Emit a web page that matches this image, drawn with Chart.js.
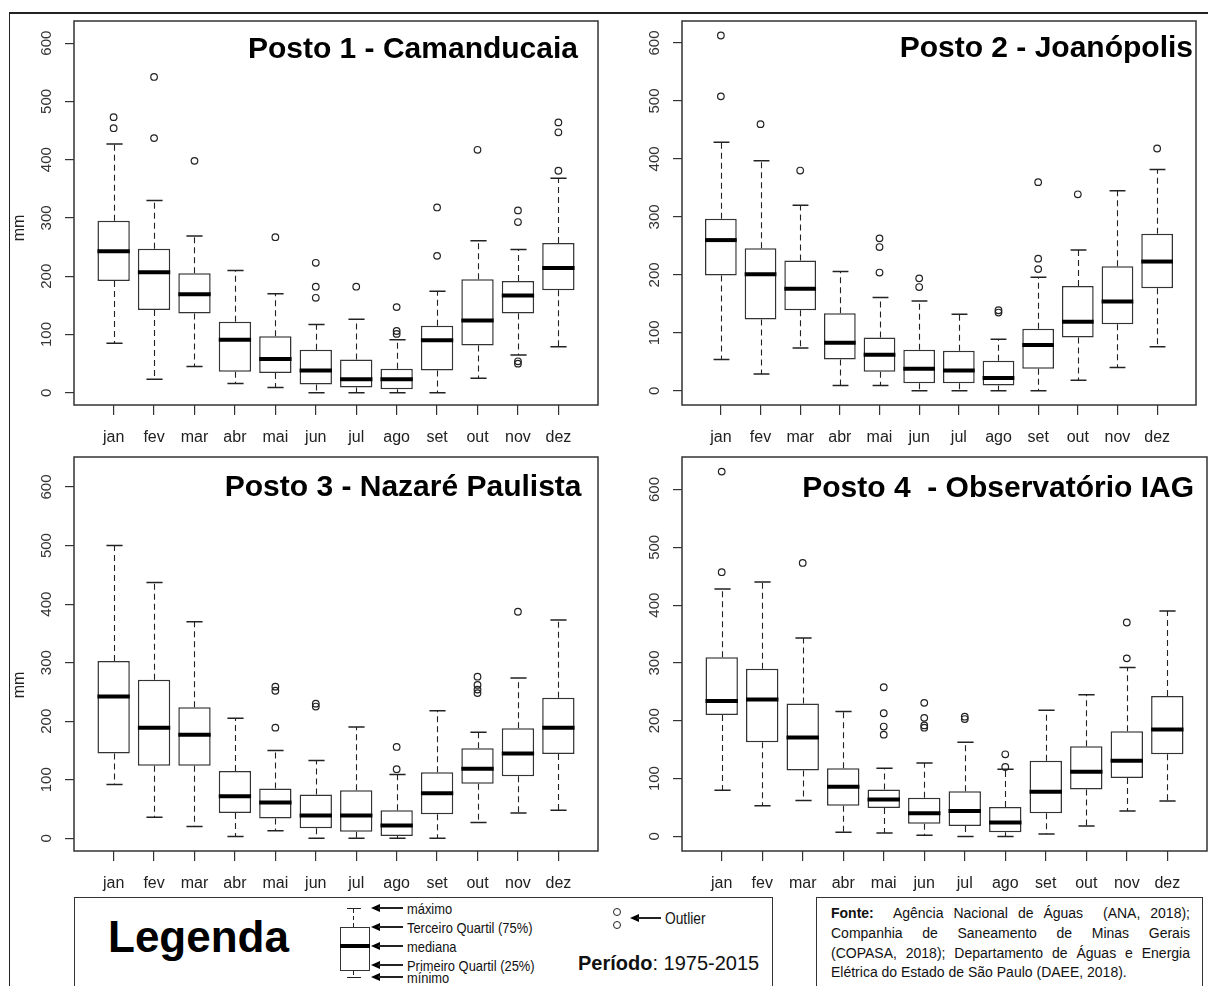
<!DOCTYPE html>
<html><head><meta charset="utf-8">
<script src="https://cdn.jsdelivr.net/npm/chart.js@4.4.1/dist/chart.umd.min.js"></script>
<style>
body{margin:0;background:#fff;}
#page{position:relative;width:1208px;height:986px;overflow:hidden;background:#fff;font-family:"Liberation Sans",Arial,sans-serif;color:#111;}
#page canvas{position:absolute;}
.a{position:absolute;white-space:nowrap;line-height:1;}
.n{transform:scaleX(0.86);transform-origin:0 50%;font-size:15px;}
.ln{position:absolute;background:#222;}
.box{position:absolute;box-sizing:border-box;border:1.5px solid #333;background:#fff;}
.ah{position:absolute;width:0;height:0;border-top:4px solid transparent;border-bottom:4px solid transparent;border-right:9px solid #000;}
.oc{position:absolute;width:6px;height:6px;border:1.2px solid #222;border-radius:50%;}
.src{position:absolute;left:831px;width:359px;font-size:14px;line-height:1;white-space:nowrap;text-align:justify;text-align-last:justify;}
</style></head><body>
<div id="page">
  <div class="ln" style="left:9px;top:12px;width:1199px;height:1.5px;"></div>
  <div class="ln" style="left:8.5px;top:12px;width:1.5px;height:980px;"></div>

  <div class="box" style="left:74px;top:897px;width:699px;height:110px;"></div>
  <div class="a" style="left:108px;top:914.8px;font-size:44px;font-weight:bold;color:#000;">Legenda</div>

  <div class="ln" style="left:347px;top:907.5px;width:14px;height:1.5px;"></div>
  <div class="ln" style="left:353px;top:909px;width:1.3px;height:18px;background:repeating-linear-gradient(to bottom,#222 0 4px,transparent 4px 7px);"></div>
  <div class="box" style="left:340px;top:927px;width:30px;height:44px;"></div>
  <div class="ln" style="left:340px;top:944px;width:30px;height:4px;background:#000;"></div>
  <div class="ln" style="left:353px;top:971px;width:1.3px;height:6px;background:repeating-linear-gradient(to bottom,#222 0 4px,transparent 4px 7px);"></div>
  <div class="ln" style="left:347px;top:976.5px;width:14px;height:1.5px;"></div>

  <div class="ah" style="left:371px;top:904px;"></div><div class="ln" style="left:378px;top:907.3px;width:25px;height:1.4px;"></div>
  <div class="ah" style="left:371px;top:923px;"></div><div class="ln" style="left:378px;top:926.3px;width:25px;height:1.4px;"></div>
  <div class="ah" style="left:371px;top:942px;"></div><div class="ln" style="left:378px;top:945.3px;width:25px;height:1.4px;"></div>
  <div class="ah" style="left:371px;top:961px;"></div><div class="ln" style="left:378px;top:964.3px;width:25px;height:1.4px;"></div>
  <div class="ah" style="left:371px;top:973px;"></div><div class="ln" style="left:378px;top:976.3px;width:25px;height:1.4px;"></div>
  <div class="a n" style="left:407px;top:900.5px;">máximo</div>
  <div class="a n" style="left:407px;top:919.5px;">Terceiro Quartil (75%)</div>
  <div class="a n" style="left:407px;top:938.5px;">mediana</div>
  <div class="a n" style="left:407px;top:957.5px;">Primeiro Quartil (25%)</div>
  <div class="a n" style="left:407px;top:970px;">mínimo</div>

  <div class="oc" style="left:613px;top:908px;"></div>
  <div class="oc" style="left:613px;top:921px;"></div>
  <div class="ah" style="left:630px;top:914px;"></div><div class="ln" style="left:637px;top:917.3px;width:24px;height:1.4px;"></div>
  <div class="a n" style="left:665px;top:910.5px;font-size:16px;">Outlier</div>
  <div class="a" style="left:578px;top:953px;font-size:20px;"><b>Período</b>: 1975-2015</div>

  <div class="box" style="left:816px;top:897px;width:387px;height:110px;"></div>
  <div class="src" style="top:906.2px;"><b>Fonte:</b>&nbsp; Agência Nacional de Águas&nbsp; (ANA, 2018);</div>
  <div class="src" style="top:926.2px;">Companhia de Saneamento de Minas Gerais</div>
  <div class="src" style="top:946.2px;">(COPASA, 2018); Departamento de Águas e Energia</div>
  <div class="src" style="top:965.2px;text-align:left;text-align-last:left;">Elétrica do Estado de São Paulo (DAEE, 2018).</div>
</div>
<script>
const months = ['jan','fev','mar','abr','mai','jun','jul','ago','set','out','nov','dez'];
const yTicks = [0,100,200,300,400,500,600];
const yLabel = 'mm';
const titles = ['Posto 1 - Camanducaia','Posto 2 - Joanópolis','Posto 3 - Nazaré Paulista','Posto 4  - Observatório IAG'];

// Posto 1
const p1Min = [85,23,45,16,9,0,0,0,0,25,65,79];
const p1Q1  = [192,142,136,36,34,14,9,6,38,81,136,176];
const p1Med = [243,207,169,91,58,38,23,23,90,124,167,214];
const p1Q3  = [295,247,205,122,97,74,57,41,115,195,192,257];
const p1Max = [427,330,269,210,170,117,126,91,174,261,246,368];
const p1Out = [[473,454],[542,437],[398],[],[267],[223,182,163],[182],[147,106,101],[318,235],[417],[313,293,54,50],[464,447,381]];

// Posto 2
const p2Min = [54,29,74,9,9,0,0,0,0,18,40,76];
const p2Q1  = [199,123,139,54,33,13,13,9,38,92,115,177];
const p2Med = [260,201,176,83,62,38,35,22,79,119,154,223];
const p2Q3  = [297,246,225,134,92,71,69,52,107,181,215,271];
const p2Max = [429,397,320,206,161,155,132,89,196,243,345,382];
const p2Out = [[613,508],[460],[380],[],[263,248,204],[194,179],[],[139,135],[360,228,210],[339],[],[418]];

// Posto 3
const p3Min = [92,36,20,3,13,0,0,0,0,27,43,48];
const p3Q1  = [145,124,124,43,34,17,11,4,41,93,106,144];
const p3Med = [242,189,177,72,61,39,39,22,77,119,145,189];
const p3Q3  = [303,271,224,115,85,75,82,48,113,154,188,240];
const p3Max = [500,437,370,205,150,133,190,109,218,181,274,373];
const p3Out = [[],[],[],[],[259,252,189],[230,225],[],[156,118],[],[276,262,254,248],[387],[]];

// Posto 4
const p4Min = [80,53,62,7,6,2,0,0,4,18,44,61];
const p4Q1  = [210,163,114,53,49,22,18,7,40,81,101,142];
const p4Med = [234,237,171,86,64,40,44,24,77,112,131,185];
const p4Q3  = [310,290,230,118,81,67,78,51,131,156,182,243];
const p4Max = [428,440,343,216,118,127,163,116,218,245,292,390];
const p4Out = [[631,457],[],[473],[],[258,213,190,176],[231,205,192,188],[207,203],[142,120],[],[],[370,308],[]];

const layouts = [
  {canvas:[0,14,606,436],   frame:[74,21,598,405],   yr:[-21,638],     titleInset:20, titleBase:36.6, mmY:228},
  {canvas:[606,14,602,436], frame:[682,21,1196,405], yr:[-24.5,638],   titleInset:3,  titleBase:36.3, mmY:213},
  {canvas:[0,450,606,446],  frame:[74,457,598,851],  yr:[-21.7,651.3], titleInset:16.5, titleBase:38.8, mmY:685},
  {canvas:[606,450,602,446],frame:[682,457,1207,851],yr:[-25.3,656.3], titleInset:13, titleBase:40, mmY:655}
];

const page = document.getElementById('page');
const FONT = '"Liberation Sans", Arial, sans-serif';

function makeChart(idx, mins, q1, med, q3, max, outs) {
  const L = layouts[idx];
  const [cl, ct, cw, ch] = L.canvas;
  const [fl, ft, fr, fb] = L.frame;
  const cv = document.createElement('canvas');
  cv.width = cw; cv.height = ch;
  cv.style.left = cl + 'px'; cv.style.top = ct + 'px';
  cv.style.width = cw + 'px'; cv.style.height = ch + 'px';
  page.appendChild(cv);
  const YW = 60, XH = 45;
  const pad = {left: fl - cl - YW, top: ft - ct, right: cl + cw - fr, bottom: ct + ch - fb - XH};

  const boxData = months.map((m, i) => ({x: i + 1, y: [q1[i], q3[i]]}));
  const outData = [];
  outs.forEach((arr, i) => arr.forEach(v => outData.push({x: i + 1, y: v})));

  const deco = {
    id: 'deco' + idx,
    afterDatasetsDraw(chart) {
      const ctx = chart.ctx, y = chart.scales.y;
      const meta = chart.getDatasetMeta(0);
      ctx.save();
      meta.data.forEach((bar, i) => {
        const x = Math.round(bar.x) + 0.5, w = bar.width;
        ctx.strokeStyle = '#222';
        ctx.lineWidth = 1.1;
        ctx.setLineDash([6, 4]);
        ctx.beginPath();
        ctx.moveTo(x, y.getPixelForValue(q3[i])); ctx.lineTo(x, y.getPixelForValue(max[i]));
        ctx.moveTo(x, y.getPixelForValue(q1[i])); ctx.lineTo(x, y.getPixelForValue(mins[i]));
        ctx.stroke();
        ctx.setLineDash([]);
        ctx.lineWidth = 1.5;
        ctx.beginPath();
        const yMax = y.getPixelForValue(max[i]), yMin = y.getPixelForValue(mins[i]);
        ctx.moveTo(x - w / 4, yMax); ctx.lineTo(x + w / 4, yMax);
        ctx.moveTo(x - w / 4, yMin); ctx.lineTo(x + w / 4, yMin);
        ctx.stroke();
        const ym = y.getPixelForValue(med[i]);
        ctx.strokeStyle = '#000';
        ctx.lineWidth = 4;
        ctx.beginPath();
        ctx.moveTo(bar.x - w / 2, ym); ctx.lineTo(bar.x + w / 2, ym);
        ctx.stroke();
      });
      ctx.restore();
    },
    afterDraw(chart) {
      const ctx = chart.ctx, a = chart.chartArea;
      ctx.save();
      ctx.strokeStyle = '#333';
      ctx.lineWidth = 1.5;
      ctx.strokeRect(a.left, a.top, a.right - a.left, a.bottom - a.top);
      ctx.fillStyle = '#000';
      ctx.font = 'bold 30px ' + FONT;
      ctx.textAlign = 'right';
      ctx.textBaseline = 'alphabetic';
      ctx.fillText(titles[idx], a.right - L.titleInset, a.top + L.titleBase);
      ctx.translate(20 - cl, L.mmY - ct);
      ctx.rotate(-Math.PI / 2);
      ctx.fillStyle = '#222';
      ctx.font = '16px ' + FONT;
      ctx.textAlign = 'center';
      ctx.textBaseline = 'middle';
      ctx.fillText(yLabel, 0, 0);
      ctx.restore();
    }
  };

  return new Chart(cv, {
    type: 'bar',
    data: {
      datasets: [
        {type: 'bar', data: boxData, backgroundColor: '#fff', borderColor: '#333', borderWidth: 1.5,
         borderSkipped: false, barPercentage: 0.8, categoryPercentage: 1, order: 2},
        {type: 'scatter', data: outData, pointRadius: 3.3, pointBorderWidth: 1.2,
         pointBorderColor: '#222', pointBackgroundColor: 'rgba(0,0,0,0)', showLine: false, order: 1}
      ]
    },
    options: {
      responsive: false, animation: false, devicePixelRatio: 1,
      layout: {padding: pad, autoPadding: false},
      plugins: {legend: {display: false}, tooltip: {enabled: false}, title: {display: false}},
      scales: {
        x: {
          type: 'linear', min: 0.02, max: 12.98, offset: false,
          afterBuildTicks: s => { s.ticks = months.map((m, i) => ({value: i + 1})); },
          afterFit: s => { s.height = XH; s.paddingLeft = 0; s.paddingRight = 0; },
          grid: {drawOnChartArea: false, drawTicks: true, tickLength: 10, color: '#333', lineWidth: 1.2, offset: false},
          border: {display: false},
          ticks: {autoSkip: false, minRotation: 0, maxRotation: 0, padding: 13, color: '#222',
                  font: {size: 16, family: FONT}, callback: v => months[v - 1]}
        },
        y: {
          type: 'linear', min: L.yr[0], max: L.yr[1],
          afterBuildTicks: s => { s.ticks = yTicks.map(v => ({value: v})); },
          afterFit: s => { s.width = YW; s.paddingTop = 0; s.paddingBottom = 0; },
          grid: {drawOnChartArea: false, drawTicks: true, tickLength: 9, color: '#333', lineWidth: 1.2},
          border: {display: false},
          ticks: {minRotation: 90, maxRotation: 90, crossAlign: 'center', padding: 6, color: '#333',
                  font: {size: 15, family: FONT}}
        }
      }
    },
    plugins: [deco]
  });
}

makeChart(0, p1Min, p1Q1, p1Med, p1Q3, p1Max, p1Out);
makeChart(1, p2Min, p2Q1, p2Med, p2Q3, p2Max, p2Out);
makeChart(2, p3Min, p3Q1, p3Med, p3Q3, p3Max, p3Out);
makeChart(3, p4Min, p4Q1, p4Med, p4Q3, p4Max, p4Out);
</script>
</body></html>
